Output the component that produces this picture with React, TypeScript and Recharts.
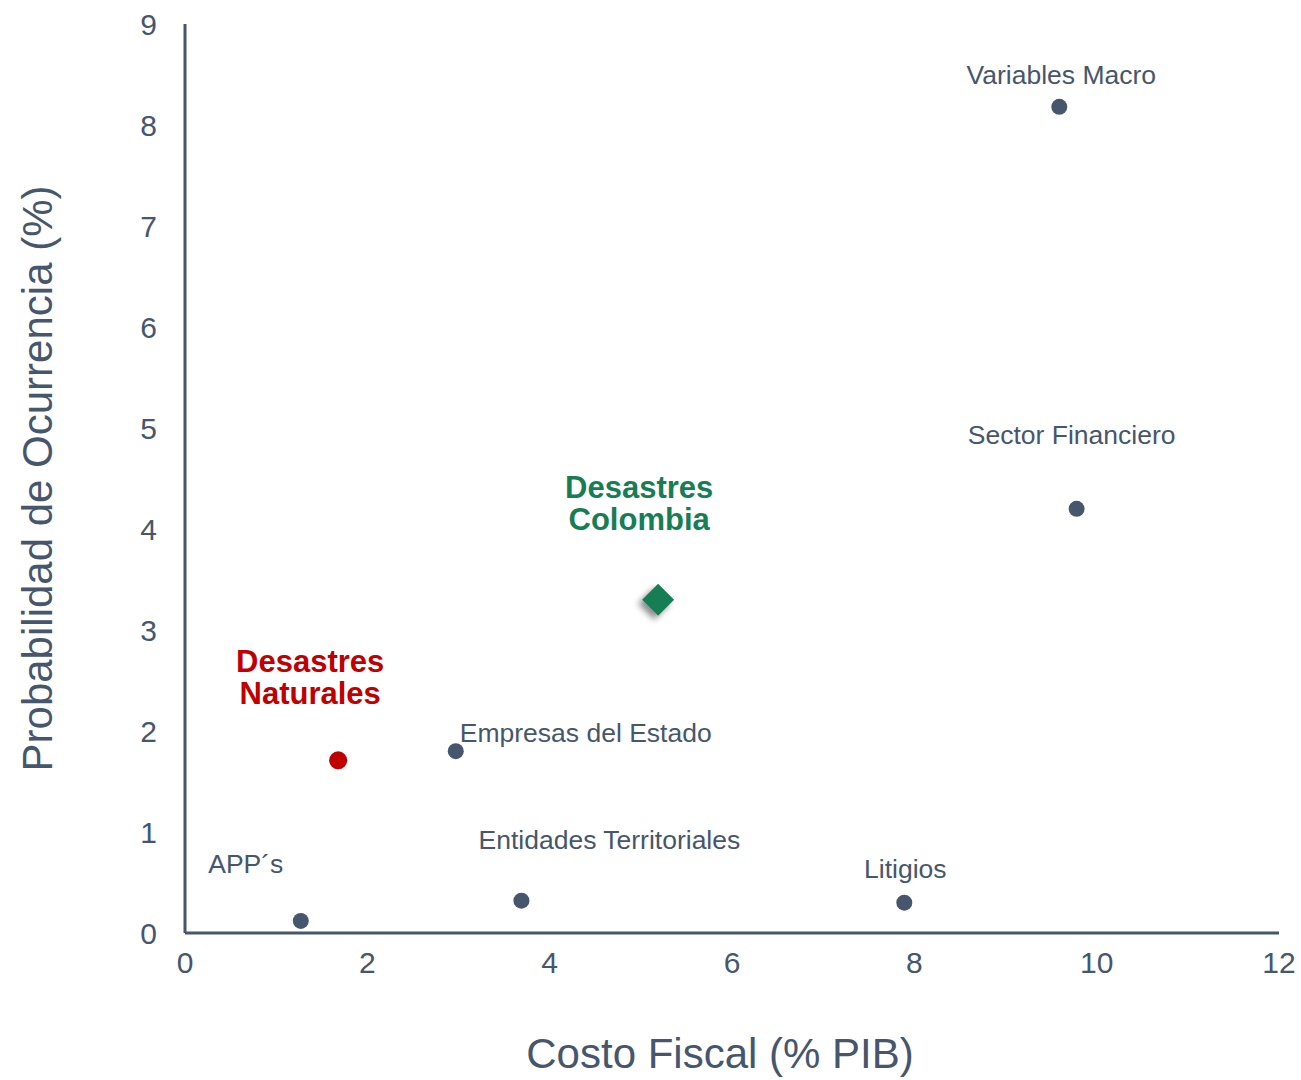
import { ScatterChart, Scatter, XAxis, YAxis, Label } from 'recharts'

const riskNames = ['Variables Macro', 'Sector Financiero', 'Empresas del Estado', 'Entidades Territoriales', 'Litigios', 'APP´s']
const costoFiscal = [9.59, 9.78, 2.97, 3.69, 7.89, 1.27]
const probabilidad = [8.18, 4.2, 1.8, 0.32, 0.3, 0.12]

const naturalesName = ['Desastres', 'Naturales']
const naturalesCosto = [1.68]
const naturalesProb = [1.71]

const colombiaName = ['Desastres', 'Colombia']
const colombiaCosto = [5.19]
const colombiaProb = [3.3]

const xTicks = [0, 2, 4, 6, 8, 10, 12]
const yTicks = [0, 1, 2, 3, 4, 5, 6, 7, 8, 9]

// label placement relative to each marker (styling only)
const riskLabelPos: { dx: number; dy: number; anchor: 'start' | 'middle' | 'end' }[] = [
  { dx: 2, dy: -32, anchor: 'middle' },
  { dx: -5, dy: -74, anchor: 'middle' },
  { dx: 4, dy: -18, anchor: 'start' },
  { dx: 88, dy: -61, anchor: 'middle' },
  { dx: 1, dy: -34, anchor: 'middle' },
  { dx: -55, dy: -57, anchor: 'middle' },
]

const riskData = riskNames.map((name, i) => ({ name, x: costoFiscal[i], y: probabilidad[i], idx: i }))
const naturalesData = naturalesCosto.map((x, i) => ({ x, y: naturalesProb[i] }))
const colombiaData = colombiaCosto.map((x, i) => ({ x, y: colombiaProb[i] }))

const INK = '#46566c'
const FONT = '"Liberation Sans", Arial, Helvetica, sans-serif'

const RiskDot = (props: any) => {
  const { cx, cy, payload } = props
  const pos = riskLabelPos[payload.idx]
  return (
    <g>
      <circle cx={cx} cy={cy} r={8} fill={INK} />
      <text x={cx + pos.dx} y={cy + pos.dy} textAnchor={pos.anchor} dominantBaseline="central" fontSize={26.5} fill={INK} fontFamily={FONT}>
        {payload.name}
      </text>
    </g>
  )
}

const NaturalesDot = (props: any) => {
  const { cx, cy } = props
  return (
    <g>
      <circle cx={cx} cy={cy} r={9} fill="#c00000" />
      {naturalesName.map((t, i) => (
        <text key={t} x={cx - 28} y={cy - 99 + i * 32} textAnchor="middle" dominantBaseline="central" fontSize={31} fontWeight="bold" fill="#c00000" fontFamily={FONT}>
          {t}
        </text>
      ))}
    </g>
  )
}

const ColombiaDiamond = (props: any) => {
  const { cx, cy } = props
  const s = 16
  return (
    <g>
      <path d={`M${cx},${cy - s} L${cx + s},${cy} L${cx},${cy + s} L${cx - s},${cy} Z`} fill="#167d55" filter="url(#diamondShadow)" />
      {colombiaName.map((t, i) => (
        <text key={t} x={cx - 19} y={cy - 112 + i * 32} textAnchor="middle" dominantBaseline="central" fontSize={31} fontWeight="bold" fill="#167d55" fontFamily={FONT}>
          {t}
        </text>
      ))}
    </g>
  )
}

export default function App() {
  return (
    <div style={{ position: 'absolute', left: 0, top: 0, background: '#fff', fontFamily: FONT }}>
      <ScatterChart width={1301} height={1080} margin={{ top: 24, right: 22, bottom: 0, left: 0 }}>
        <defs>
          <filter id="diamondShadow" x="-50%" y="-50%" width="200%" height="200%">
            <feDropShadow dx={-4} dy={4} stdDeviation={3} floodColor="#000" floodOpacity={0.45} />
          </filter>
        </defs>
        <XAxis
          type="number"
          dataKey="x"
          domain={[0, 12]}
          ticks={xTicks}
          tickLine={false}
          axisLine={{ stroke: INK, strokeWidth: 3 }}
          tick={{ fill: INK, fontSize: 30, fontFamily: FONT }}
          tickMargin={13}
          height={147}
        >
          <Label value="Costo Fiscal (% PIB)" position="insideBottom" offset={12} fill={INK} fontSize={42} fontFamily={FONT} dx={-12} />
        </XAxis>
        <YAxis
          type="number"
          dataKey="y"
          domain={[0, 9]}
          ticks={yTicks}
          tickLine={false}
          axisLine={{ stroke: INK, strokeWidth: 3 }}
          tick={{ fill: INK, fontSize: 30, fontFamily: FONT }}
          tickMargin={22}
          width={185}
        >
          <Label value="Probabilidad de Ocurrencia (%)" angle={-90} position="insideLeft" offset={37} fill={INK} fontSize={42} fontFamily={FONT} style={{ textAnchor: 'middle' }} />
        </YAxis>
        <Scatter data={riskData} shape={RiskDot} isAnimationActive={false} />
        <Scatter data={naturalesData} shape={NaturalesDot} isAnimationActive={false} />
        <Scatter data={colombiaData} shape={ColombiaDiamond} isAnimationActive={false} />
      </ScatterChart>
    </div>
  )
}
